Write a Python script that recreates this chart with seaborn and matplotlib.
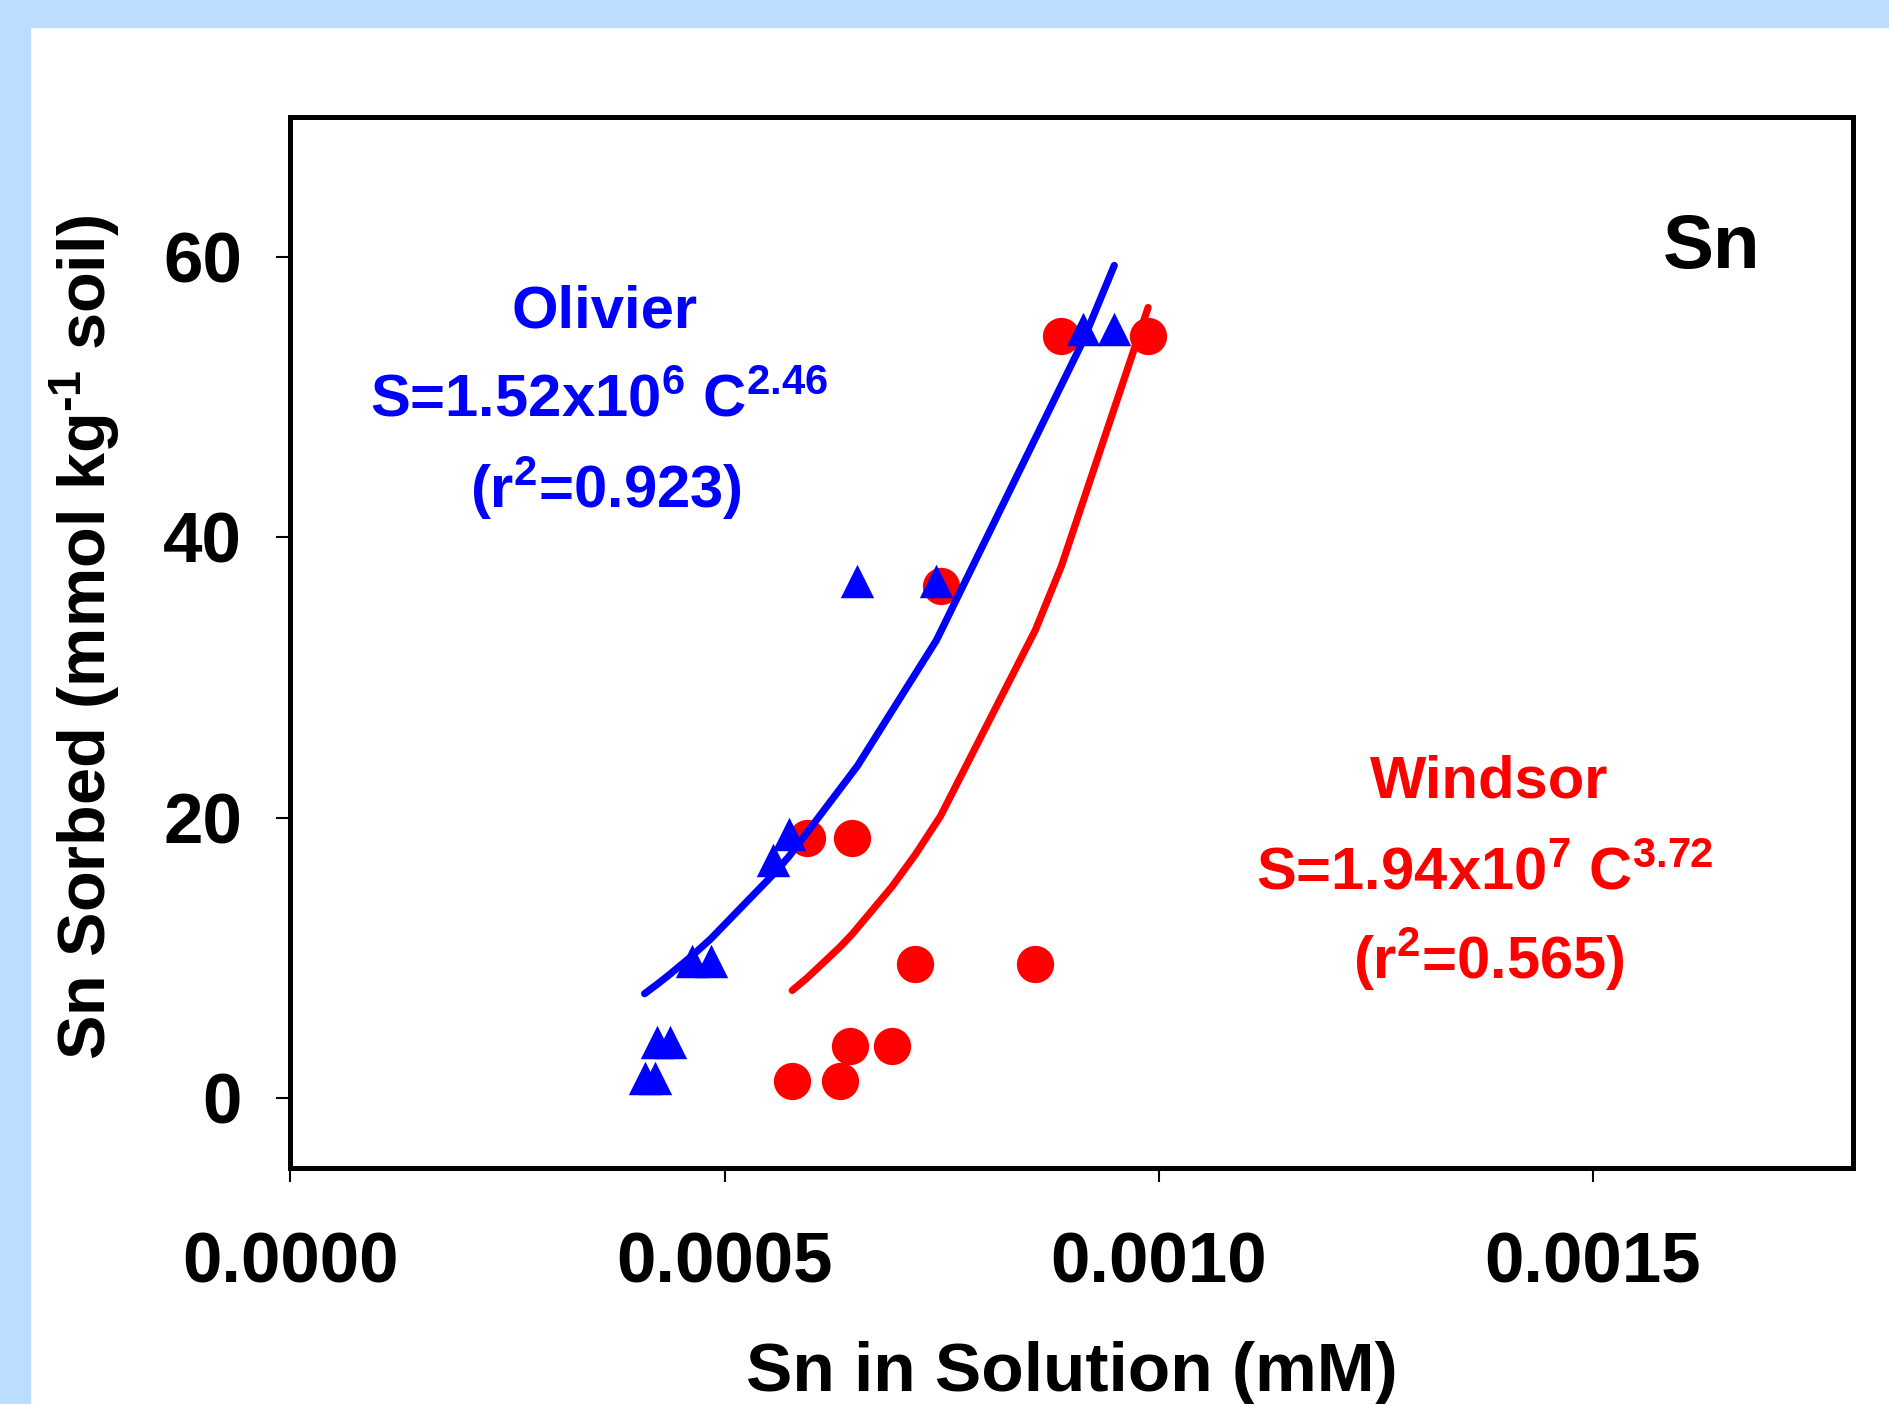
import matplotlib
matplotlib.use("Agg")
import matplotlib.pyplot as plt
import pandas as pd
import seaborn as sns
from matplotlib.patches import Rectangle

# Olivier soil (blue triangles): Sn in solution (mM) / Sn sorbed (mmol/kg)
olivier_c = [0.000408, 0.000420, 0.000422, 0.000437, 0.000462, 0.000484,
             0.000556, 0.000574, 0.000653, 0.000744, 0.000913, 0.000949]
olivier_s = [1.45, 1.45, 4.0, 4.0, 9.8, 9.8, 17.0, 18.8, 36.9, 36.9, 54.9, 54.9]

# Windsor soil (red circles)
windsor_c = [0.000578, 0.000633, 0.000645, 0.000693, 0.000720, 0.000858,
             0.000595, 0.000647, 0.000749, 0.000888, 0.000988]
windsor_s = [1.2, 1.2, 3.7, 3.7, 9.55, 9.55, 18.55, 18.55, 36.5, 54.4, 54.4]

# power-law fit lines, vertices
olivier_fit_c = [0.000408, 0.000420, 0.000422, 0.000437, 0.000462, 0.000484,
                 0.000556, 0.000574, 0.000653, 0.000744, 0.000913, 0.000949]
olivier_fit_s = [7.44, 8.00, 8.09, 8.82, 10.11, 11.34,
                 15.94, 17.21, 23.68, 32.64, 54.01, 59.4]
windsor_fit_c = [0.000578, 0.000595, 0.000633, 0.000645, 0.000647, 0.000693,
                 0.000720, 0.000749, 0.000858, 0.000888, 0.000988]
windsor_fit_s = [7.67, 8.55, 10.77, 11.55, 11.68, 15.08,
                 17.38, 20.13, 33.37, 37.93, 56.4]

x_ticks = [0.0, 0.0005, 0.0010, 0.0015]
x_tick_labels = ["0.0000", "0.0005", "0.0010", "0.0015"]
y_ticks = [0, 20, 40, 60]
y_tick_labels = ["0", "20", "40", "60"]

sns.set_style("white")
plt.rcParams["font.family"] = ["Liberation Sans", "DejaVu Sans"]
plt.rcParams["font.weight"] = "bold"
plt.rcParams["text.color"] = "black"
plt.rcParams["axes.labelcolor"] = "black"
plt.rcParams["xtick.color"] = "black"
plt.rcParams["ytick.color"] = "black"
plt.rcParams["mathtext.fontset"] = "custom"
plt.rcParams["mathtext.rm"] = "Liberation Sans:bold"
plt.rcParams["mathtext.bf"] = "Liberation Sans:bold"
plt.rcParams["mathtext.default"] = "bf"

fig = plt.figure(figsize=(18.9, 14.04), dpi=100)
fig.patch.set_facecolor("white")
# light blue slide border (left and top)
fig.patches.append(Rectangle((0, 0), 30 / 1890, 1, transform=fig.transFigure,
                             color="#BBDDFF", zorder=0))
fig.patches.append(Rectangle((0, 1 - 27 / 1404), 1, 27 / 1404,
                             transform=fig.transFigure, color="#BBDDFF", zorder=0))

ax = fig.add_axes([0.1537, 0.1681, 0.8267, 0.7486])

df_w = pd.DataFrame({"c": windsor_c, "s": windsor_s})
df_o = pd.DataFrame({"c": olivier_c, "s": olivier_s})
fit_w = pd.DataFrame({"c": windsor_fit_c, "s": windsor_fit_s})
fit_o = pd.DataFrame({"c": olivier_fit_c, "s": olivier_fit_s})

sns.scatterplot(data=df_w, x="c", y="s", marker="o", s=720, color="#FF0000",
                linewidth=0, ax=ax, zorder=2)
sns.lineplot(data=fit_w, x="c", y="s", color="#FF0000", linewidth=5.2,
             estimator=None, sort=False, ax=ax, zorder=3)
sns.scatterplot(data=df_o, x="c", y="s", marker="^", s=580, color="#0000FF",
                linewidth=0, ax=ax, zorder=4)
sns.lineplot(data=fit_o, x="c", y="s", color="#0000FF", linewidth=5.2,
             estimator=None, sort=False, ax=ax, zorder=5)

ax.set_xlim(0, 0.0018)
ax.set_ylim(-5, 70)
ax.set_xticks(x_ticks)
ax.set_xticklabels(x_tick_labels)
ax.set_yticks(y_ticks)
ax.set_yticklabels(y_tick_labels)

for sp in ax.spines.values():
    sp.set_linewidth(3.6)
    sp.set_color("black")
ax.tick_params(axis="both", which="major", direction="out", length=10, width=1.5,
               color="black", labelcolor="black", labelsize=51,
               bottom=True, left=True, top=False, right=False)
ax.tick_params(axis="x", pad=36)
ax.tick_params(axis="y", pad=25)
for lab in ax.get_xticklabels() + ax.get_yticklabels():
    lab.set_fontweight("bold")

ax.set_xlabel("Sn in Solution (mM)", fontsize=50, fontweight="bold")
ax.set_ylabel(r"Sn Sorbed (mmol kg$^{\text{-1}}$ soil)", fontsize=48,
              fontweight="bold")
ax.xaxis.set_label_coords(0.5, -0.165)
ax.yaxis.set_label_coords(-0.108, 0.505)

# annotations
txt = dict(fontsize=43, fontweight="bold", ha="center", va="baseline")
ax.text(0.000362, 55.0, "Olivier", color="#0000FF", **txt)
ax.text(0.000356, 48.6, r"S=1.52x10$^{6}$ C$^{2.46}$", color="#0000FF", **txt)
ax.text(0.000363, 42.1, r"(r$^{2}$=0.923)", color="#0000FF", **txt)

ax.text(0.001381, 21.45, "Windsor", color="#FF0000", **txt)
ax.text(0.001376, 14.9, r"S=1.94x10$^{7}$ C$^{3.72}$", color="#FF0000", **txt)
ax.text(0.001381, 8.5, r"(r$^{2}$=0.565)", color="#FF0000", **txt)

ax.text(0.001637, 59.2, "Sn", color="black", fontsize=55, fontweight="bold",
        ha="center", va="baseline")

fig.savefig("out.png", dpi=100)
